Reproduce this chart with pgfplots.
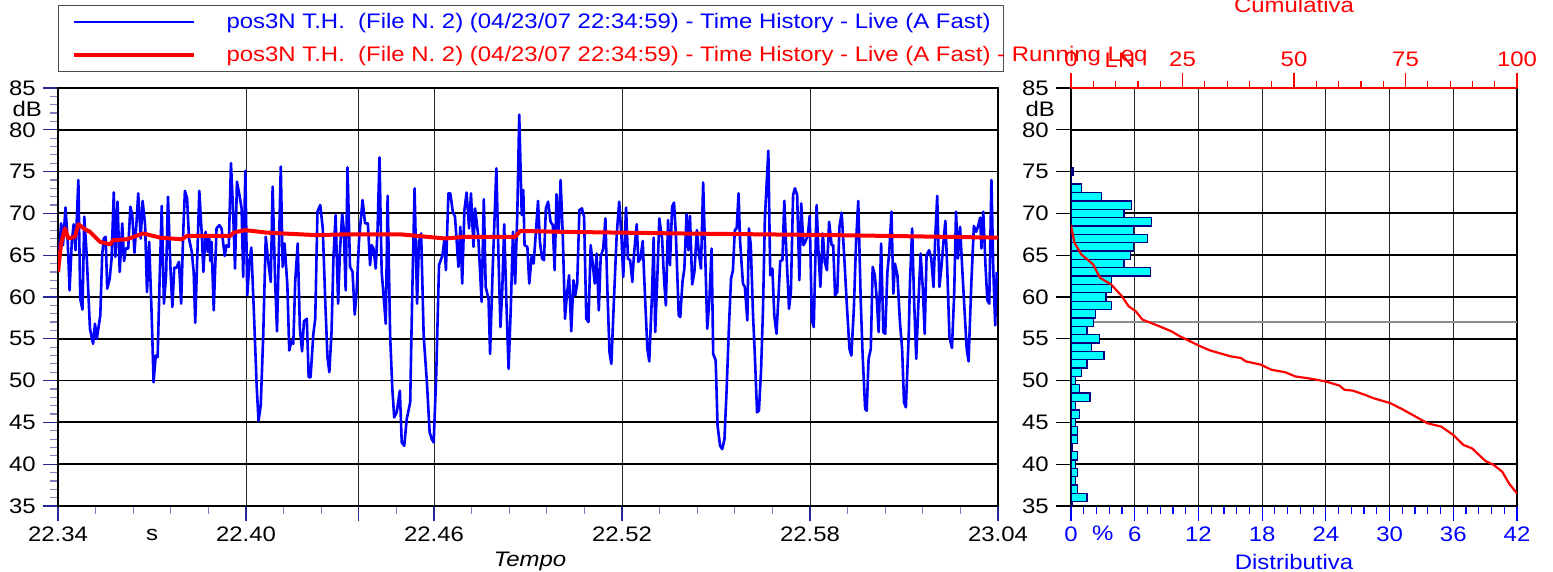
\documentclass[border=0pt]{standalone}
\usepackage{fontspec}
\setmainfont{Liberation Sans}[FakeStretch=1.14]
\usepackage{pgfplots}
\pgfplotsset{compat=1.18}
\definecolor{navy}{RGB}{0,0,128}
\definecolor{tickblue}{RGB}{40,40,150}
\definecolor{aqua}{RGB}{0,255,255}

\pgfplotstableread{
lev pct
35 0.15
36 1.5
37 0.6
38 0.4
39 0.6
40 0.4
41 0.6
42 0.15
43 0.6
44 0.6
45 0.4
46 0.8
47 0.4
48 1.8
49 0.8
50 0.4
51 1.0
52 1.5
53 3.1
54 1.9
55 2.7
56 1.5
57 2.1
58 2.3
59 3.8
60 3.3
61 3.8
62 3.8
63 7.5
64 5.0
65 5.6
66 5.9
67 7.2
68 5.9
69 7.6
70 5.0
71 5.7
72 2.9
73 1.0
74 0
75 0.2
}\histdata

\begin{document}
\fontsize{21bp}{25bp}\selectfont
\begin{tikzpicture}
\useasboundingbox (0,0) rectangle (1553bp,572bp);

\begin{axis}[
  at={(58bp,66bp)}, anchor=south west,
  scale only axis, width=940bp, height=418bp,
  xmin=0, xmax=30, ymin=35, ymax=85,
  /pgf/number format/assume math mode=true,
  axis line style={black, line width=1.6bp},
  xtick={0,6,9.6,12,18,24,30},
  xticklabels={22.34,22.40,{},22.46,22.52,22.58,23.04},
  minor xtick={1.2,2.4,3.6,4.8,7.2,8.4,10.8,13.2,14.4,15.6,16.8,19.2,20.4,21.6,22.8,25.2,26.4,27.6,28.8},
  extra x ticks={3}, extra x tick labels={s},
  extra x tick style={grid=none, major tick length=0pt, xticklabel style={yshift=-15bp}},
  ytick={35,40,...,85}, minor y tick num=4,
  xtick pos=bottom, ytick pos=left,
  tick align=outside,
  major tick length=15bp, minor tick length=8bp,
  tick style={tickblue, line width=1.2bp},
  minor tick style={tickblue!60, line width=1.2bp},
  xmajorgrids, ymajorgrids,
  major x grid style={black!85, line width=1bp},
  major y grid style={black, line width=1.8bp},
  xticklabel style={anchor=base, yshift=-20bp},
  yticklabel style={anchor=east},
  legend style={at={(0,1)}, anchor=south west, yshift=16bp, draw=black!70, line width=1bp,
    inner sep=0pt, row sep=0pt, column sep=0pt, nodes={inner sep=0pt}},
  legend cell align=left,
  legend image code/.code={\path[draw=none, fill=none] (0bp,-16.5bp) rectangle (168bp,16.5bp); \draw[#1, line cap=butt] (15bp,0bp) -- (135bp,0bp);},
]
\addplot[blue, line width=2.6bp, line join=round] coordinates {
(0.00,63.4) (0.10,68.8) (0.16,66.2) (0.24,70.7) (0.31,66.6) (0.37,60.8) (0.44,66.6) (0.50,68.7) (0.56,65.6) (0.65,74.0)
(0.71,59.8) (0.78,58.5) (0.84,69.6) (0.91,65.4) (1.02,56.2) (1.12,54.4) (1.18,56.8) (1.24,55.0) (1.35,57.8) (1.41,65.0)
(1.46,67.0) (1.52,67.2) (1.57,61.0) (1.65,62.2) (1.71,64.6) (1.78,72.5) (1.83,64.8) (1.90,71.4) (1.97,63.0) (2.05,68.8)
(2.11,64.3) (2.16,65.8) (2.24,65.8) (2.31,70.8) (2.37,69.8) (2.44,65.3) (2.50,68.6) (2.56,72.4) (2.64,67.0) (2.70,71.5)
(2.78,68.6) (2.84,60.6) (2.91,66.6) (2.99,57.8) (3.05,49.8) (3.12,53.0) (3.18,52.8) (3.24,61.6) (3.31,70.9) (3.38,59.2)
(3.45,62.6) (3.51,72.0) (3.59,63.4) (3.65,58.8) (3.71,63.5) (3.78,63.5) (3.86,64.2) (3.93,59.2) (4.00,68.1) (4.05,72.7)
(4.12,71.8) (4.18,67.0) (4.27,65.4) (4.33,63.0) (4.38,56.9) (4.44,64.2) (4.51,72.7) (4.59,67.4) (4.64,63.0) (4.71,67.8)
(4.78,65.4) (4.82,67.4) (4.86,64.3) (4.90,66.6) (4.97,58.4)
(5.06,68.2) (5.15,68.6) (5.22,68.2) (5.32,64.9) (5.38,66.2) (5.45,66.0) (5.52,76.0) (5.59,70.2) (5.65,63.4) (5.71,73.8)
(5.79,72.2) (5.86,70.6) (5.91,62.4) (5.98,75.1) (6.04,60.2) (6.11,64.2) (6.17,65.9) (6.26,57.4) (6.34,49.4) (6.40,45.2)
(6.47,47.0) (6.55,55.4) (6.63,67.2) (6.71,64.2) (6.79,61.8) (6.85,73.2) (6.93,61.8) (6.99,55.9) (7.04,64.2) (7.11,75.6)
(7.17,63.6) (7.23,66.4) (7.32,61.4) (7.38,53.6) (7.45,54.7) (7.51,54.4) (7.57,61.8) (7.65,66.4) (7.72,56.2) (7.79,53.5)
(7.85,57.1) (7.94,57.4) (8.00,50.4) (8.06,50.4) (8.15,55.6) (8.21,57.4) (8.28,70.2) (8.37,71.0) (8.45,68.2) (8.53,59.4)
(8.60,52.8) (8.66,51.0) (8.73,55.8) (8.79,64.6) (8.86,69.8) (8.94,59.2) (9.00,65.6) (9.07,69.9) (9.12,68.2) (9.18,60.8)
(9.24,75.5) (9.32,63.6) (9.40,63.0) (9.47,57.9) (9.53,60.6) (9.61,67.0) (9.72,71.6) (9.80,68.8) (9.89,68.8) (9.96,63.8)
(10.01,66.2) (10.07,65.8) (10.14,63.4) (10.20,68.2) (10.26,76.7) (10.33,63.0) (10.39,60.2) (10.46,56.8) (10.52,72.1) (10.60,55.4)
(10.67,49.0) (10.73,45.6) (10.81,46.2) (10.91,48.8) (10.97,42.6) (11.05,42.2) (11.13,45.4) (11.24,47.4) (11.30,59.4) (11.38,73.0)
(11.46,59.2) (11.52,66.6) (11.59,67.6) (11.67,55.4) (11.78,49.4) (11.86,43.8) (11.93,43.0) (11.99,42.6) (12.07,50.6) (12.16,63.8)
(12.27,65.0) (12.33,66.8) (12.38,63.2) (12.46,72.4) (12.52,72.4) (12.60,70.2) (12.67,69.6) (12.78,63.6) (12.84,68.4) (12.90,61.6)
(12.97,70.4) (13.04,72.5) (13.12,68.2) (13.18,72.4) (13.26,66.0) (13.31,70.6) (13.41,67.4) (13.52,59.4) (13.59,71.7) (13.65,61.2)
(13.74,59.8) (13.79,53.2) (13.87,63.0) (13.99,75.4) (14.06,64.6) (14.12,56.4) (14.18,61.0) (14.24,68.7) (14.31,59.4) (14.38,51.4)
(14.45,58.6) (14.52,67.8) (14.59,61.6) (14.66,70.2) (14.72,81.8) (14.80,69.8) (14.85,72.8) (14.89,66.2)
(14.98,66.0) (15.04,61.6) (15.12,65.0) (15.18,64.0) (15.26,68.2) (15.32,71.5) (15.38,66.6) (15.45,64.6) (15.51,64.4) (15.57,70.6)
(15.64,71.4) (15.72,69.0) (15.79,68.6) (15.85,63.2) (15.91,72.3) (15.98,67.8) (16.04,74.0) (16.11,67.4) (16.18,57.4) (16.24,60.2)
(16.31,62.6) (16.38,55.9) (16.45,62.0) (16.51,60.2) (16.57,61.6) (16.64,70.4) (16.72,70.6) (16.79,69.6) (16.86,57.4) (16.93,57.0)
(17.00,66.2) (17.06,64.2) (17.13,61.6) (17.19,65.2) (17.26,58.4) (17.32,64.8) (17.40,65.8) (17.47,69.4) (17.53,61.2) (17.60,53.4)
(17.66,52.0) (17.74,59.4) (17.83,67.4) (17.91,71.4) (17.98,67.4) (18.04,62.4) (18.13,70.7) (18.19,64.6) (18.26,64.4) (18.33,61.8)
(18.38,65.0) (18.47,68.7) (18.52,64.2) (18.59,64.6) (18.66,66.7) (18.74,59.6) (18.81,53.8) (18.87,52.3) (18.96,60.6) (19.01,67.1)
(19.06,55.8) (19.13,62.6) (19.19,69.4) (19.28,67.0) (19.34,62.2) (19.40,59.0) (19.47,69.2) (19.53,63.8) (19.60,70.8) (19.66,71.3)
(19.72,67.4) (19.81,57.8)
(19.86,57.6) (19.93,61.8) (19.99,63.4) (20.06,69.9) (20.12,65.6) (20.17,69.7) (20.24,61.5) (20.31,63.0) (20.39,68.0) (20.46,65.0)
(20.52,63.4) (20.59,73.7) (20.65,65.8) (20.72,56.2) (20.79,59.8) (20.86,65.8) (20.91,53.2) (20.99,52.4) (21.05,44.6) (21.13,42.2)
(21.20,41.8) (21.27,43.0) (21.34,49.0) (21.41,56.2) (21.48,62.2) (21.54,63.2) (21.60,68.0) (21.66,68.2) (21.72,72.4) (21.77,66.6)
(21.86,61.6) (21.92,61.2) (22.00,57.2) (22.05,68.2) (22.11,66.2) (22.18,58.0) (22.24,53.0) (22.31,46.2) (22.37,46.4) (22.44,51.4)
(22.50,58.6) (22.56,69.4) (22.67,77.5) (22.73,62.6) (22.80,63.4) (22.86,57.8) (22.93,55.6) (22.99,59.8) (23.05,64.3) (23.12,64.4)
(23.18,71.5) (23.24,65.8) (23.33,58.6) (23.39,60.6) (23.46,72.2) (23.52,73.0) (23.59,72.2) (23.66,62.0) (23.72,71.2) (23.79,66.2)
(23.85,66.6) (23.93,67.4) (23.99,69.7) (24.06,57.2) (24.12,56.4) (24.21,71.0) (24.27,65.4) (24.33,61.2) (24.41,67.6) (24.47,64.2)
(24.54,63.2) (24.61,69.0)
(24.69,66.2) (24.74,66.2) (24.80,60.2) (24.87,60.6) (24.94,68.4) (25.01,70.1) (25.09,65.0) (25.17,59.4) (25.26,53.8) (25.32,53.0)
(25.40,58.6) (25.47,66.6) (25.54,71.5) (25.62,59.4) (25.68,53.0) (25.76,46.6) (25.81,46.4) (25.87,52.6) (25.94,53.8) (26.00,63.6)
(26.07,62.6) (26.13,59.8) (26.19,55.8) (26.27,66.4) (26.34,55.8) (26.40,55.6) (26.47,63.0) (26.53,65.4) (26.60,70.2) (26.66,60.4)
(26.71,64.0) (26.79,62.6) (26.87,57.0) (26.94,53.8) (27.00,47.4) (27.06,46.8) (27.15,55.4) (27.19,61.8) (27.26,68.2) (27.32,59.8)
(27.39,52.6) (27.47,60.2) (27.53,65.2) (27.60,61.0) (27.66,55.6) (27.72,65.0) (27.80,65.6) (27.87,64.6) (27.94,61.2) (28.00,67.4)
(28.06,72.1) (28.13,61.2) (28.19,63.4) (28.26,66.6) (28.32,69.1) (28.38,63.4) (28.45,55.2) (28.53,53.9) (28.60,60.2) (28.66,70.2)
(28.72,64.6) (28.79,68.4) (28.87,62.6) (29.00,53.8) (29.06,52.3) (29.15,61.8) (29.23,68.5) (29.30,67.8) (29.36,68.4) (29.43,69.5)
(29.47,65.8) (29.53,70.2) (29.60,63.8) (29.66,59.6) (29.72,59.2) (29.79,74.0) (29.85,63.2) (29.91,56.6) (29.96,63.0)
};
\addlegendentry{\makebox[777bp][l]{\textcolor{blue}{pos3N T.H.\ \ (File N. 2) (04/23/07 22:34:59) - Time History - Live (A Fast)}}}
\addplot[red, line width=4bp, line join=round] coordinates {
(0.00,63.0) (0.10,66.4) (0.22,68.2) (0.33,67.0) (0.54,67.2) (0.65,68.7) (0.86,68.1) (1.02,67.8) (1.34,66.6) (1.66,66.3)
(1.77,66.8) (2.19,66.9) (2.72,67.6) (3.26,67.1) (3.95,66.9) (4.11,67.3) (5.49,67.3) (5.60,67.7) (5.97,68.0) (6.66,67.7)
(7.18,67.6) (8.26,67.4) (9.21,67.5) (10.92,67.5) (12.35,67.0) (12.99,67.2) (14.59,67.2) (14.75,67.9) (16.02,67.8) (19.85,67.6)
(24.80,67.4) (30.00,67.1)
};
\addlegendentry{\makebox[777bp][l]{\textcolor{red}{pos3N T.H.\ \ (File N. 2) (04/23/07 22:34:59) - Time History - Live (A Fast) - Running Leq}}}
\end{axis}

% histogram axis
\begin{axis}[
  at={(1071bp,66bp)}, anchor=south west,
  scale only axis, width=446bp, height=418bp,
  xmin=0, xmax=42, ymin=35, ymax=85,
  /pgf/number format/assume math mode=true,
  axis line style={black, line width=1.6bp},
  xtick={0,6,...,42},
  minor xtick={1.2,2.4,3.6,4.8,7.2,8.4,9.6,10.8,13.2,14.4,15.6,16.8,19.2,20.4,21.6,22.8,25.2,26.4,27.6,28.8,31.2,32.4,33.6,34.8,37.2,38.4,39.6,40.8},
  extra x ticks={3}, extra x tick labels={\%},
  extra x tick style={grid=none, major tick length=0pt, xticklabel style={yshift=-15bp}},
  ytick={35,40,...,85},
  extra y ticks={57}, extra y tick labels={},
  extra y tick style={major tick length=0pt, major y grid style={black!45, line width=1.4bp}},
  xtick pos=bottom, ytick pos=left,
  tick align=outside,
  major tick length=15bp, minor tick length=8bp,
  x tick style={blue, line width=1.2bp},
  y tick style={black, line width=1.2bp},
  xticklabel style={anchor=base, yshift=-20bp, blue},
  yticklabel style={anchor=east},
  xmajorgrids, ymajorgrids,
  major x grid style={black!85, line width=1.2bp},
  major y grid style={black, line width=1.8bp},
]
\addplot[xbar, bar width=1, bar shift=0pt, fill=aqua, draw=navy, line width=1.3bp] table[x=pct, y=lev] {\histdata};
\end{axis}

% cumulative axis
\begin{axis}[
  at={(1071bp,66bp)}, anchor=south west,
  scale only axis, width=446bp, height=418bp,
  xmin=0, xmax=100, ymin=35, ymax=85,
  axis x line*=top, axis y line=none,
  axis line style={red, line width=2bp, -},
  /pgf/number format/assume math mode=true,
  xtick={0,25,50,75,100}, minor x tick num=4,
  tick align=outside,
  major tick length=15bp, minor tick length=7bp,
  tick style={red, line width=1.2bp},
  xticklabel style={red, anchor=base, yshift=6bp},
]
\addplot[red, line width=2.2bp, line join=round] coordinates {
(0,68.56) (0.76,66.5) (2.3,65.1) (4.95,63.9) (6.5,62.3) (9.0,61.5) (11.4,60.1) (12.9,58.9) (14.5,58.3) (16.0,57.3)
(19.8,56.5) (22.5,55.9) (24.4,55.3) (28.6,54.2) (31.2,53.6) (35.8,52.9) (38.1,52.7) (39.2,52.3) (42.6,51.9) (44.9,51.3)
(48.0,51.0) (50.3,50.5) (54.1,50.2) (57.1,49.9) (60.2,49.4) (61.3,48.9) (63.2,48.8) (65.9,48.3) (67.8,47.9) (71.6,47.3)
(74.2,46.6) (76.9,45.8) (79.9,44.9) (83.0,44.5) (85.7,43.5) (88.0,42.3) (89.9,41.9) (92.9,40.4) (94.8,39.9) (96.7,39.1)
(98.2,37.7) (100,36.5)
};
\end{axis}

\node[anchor=east, inner sep=0pt] at (42bp,463bp) {dB};
\node[anchor=east, inner sep=0pt] at (1055bp,463bp) {dB};
\node[red, inner sep=0pt] at (1120bp,512bp) {LN};
\node[red, anchor=base, inner sep=0pt] at (1294bp,559bp) {Cumulativa};
\node[blue, anchor=base, inner sep=0pt] at (1294bp,3bp) {Distributiva};
\node[anchor=base, inner sep=0pt, font=\itshape] at (530bp,6bp) {Tempo};
\end{tikzpicture}
\end{document}
